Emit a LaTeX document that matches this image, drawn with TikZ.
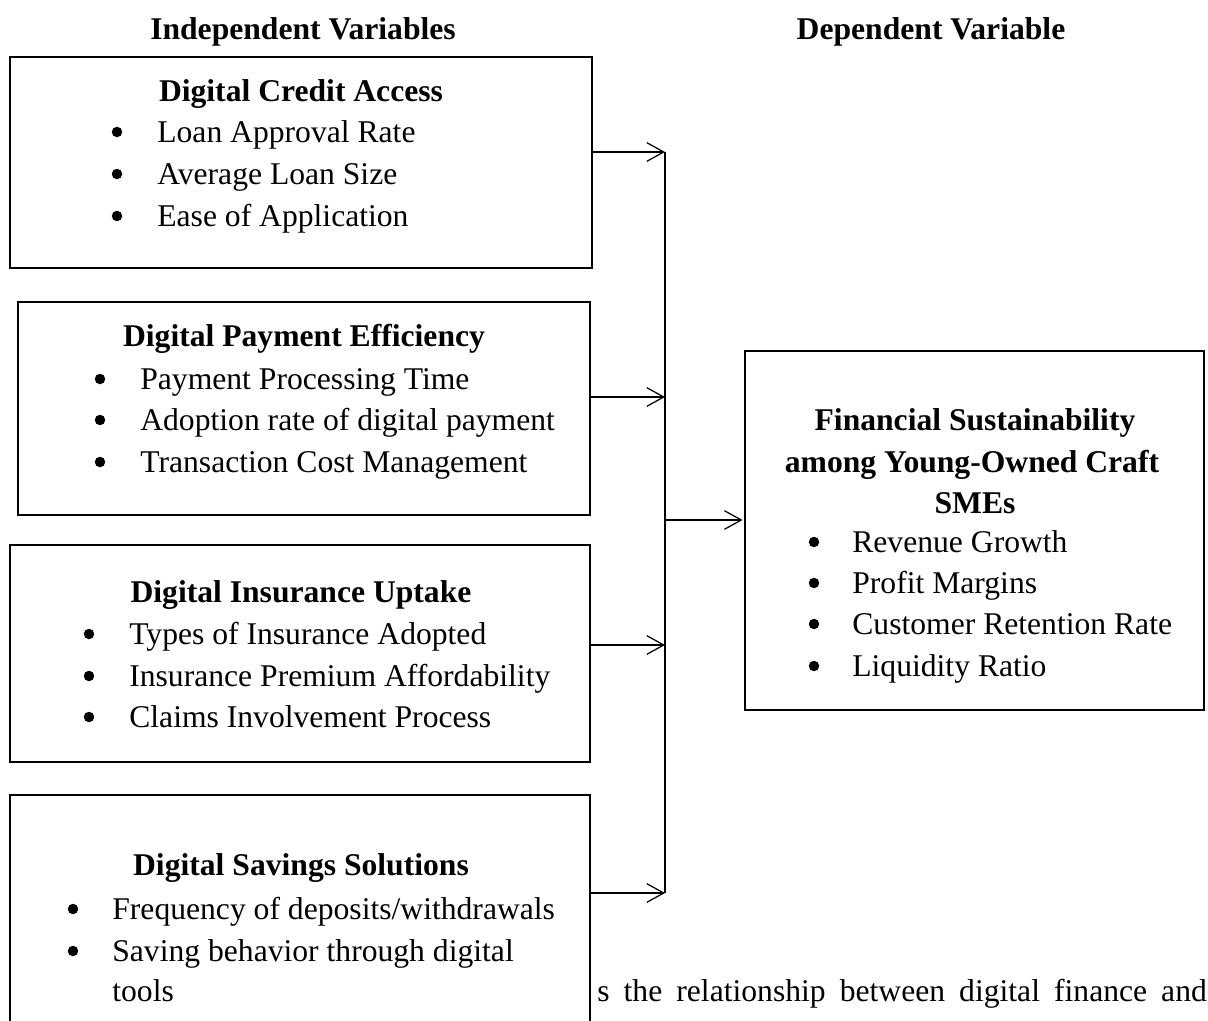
\documentclass[tikz,border=0pt]{standalone}
\usepackage{fontspec}
\setmainfont{Liberation Serif}
\usetikzlibrary{arrows.meta}
\newcommand{\wsp}{\hspace{8pt}}
\tikzset{
  every node/.style={font=\fontsize{18}{22}\selectfont, inner sep=0pt},
  box/.style={draw, line width=1.4pt},
  head/.style={font=\fontsize{18}{22}\selectfont\bfseries, anchor=base},
  dot/.style={circle, fill, minimum size=0.21cm},
  item/.style={anchor=base west},
  arr/.style={-{Straight Barb[length=9.6pt,width=10.6pt]}, line width=0.7pt},
}
\begin{document}
\begin{tikzpicture}[x=0.02cm, y=-0.02cm]
      \useasboundingbox (0, 0) rectangle (1208, 1021);
      % column headings
      \node[head] (H1) at (303, 39) {Independent Variables};
      \node[head] (H2) at (931, 39) {Dependent Variable};
      % boxes
      \node[box, minimum width=11.64cm, minimum height=4.22cm] (B1) at (301, 162.5) {};
      \node[box, minimum width=11.44cm, minimum height=4.26cm] (B2) at (304, 408.5) {};
      \node[box, minimum width=11.60cm, minimum height=4.34cm] (B3) at (300, 653.5) {};
      \node[box, minimum width=11.60cm, minimum height=4.90cm] (B4) at (300, 917.5) {};
      \node[box, minimum width=9.18cm, minimum height=7.18cm] (F) at (974.5, 530.5) {};
      % digital credit access
      \node[head] (T1) at (301, 101) {Digital Credit Access};
      \node[dot] (D11) at (117, 132) {};
      \node[dot] (D12) at (117, 174) {};
      \node[dot] (D13) at (117, 216) {};
      \node[item] (I11) at (157, 142) {Loan Approval Rate};
      \node[item] (I12) at (157, 184) {Average Loan Size};
      \node[item] (I13) at (157, 226) {Ease of Application};
      % digital payment efficiency
      \node[head] (T2) at (304, 346) {Digital Payment Efficiency};
      \node[dot] (D21) at (100, 379) {};
      \node[dot] (D22) at (100, 420) {};
      \node[dot] (D23) at (100, 462) {};
      \node[item] (I21) at (140, 389) {Payment Processing Time};
      \node[item] (I22) at (140, 430) {Adoption rate of digital payment};
      \node[item] (I23) at (140, 472) {Transaction Cost Management};
      % digital insurance uptake
      \node[head] (T3) at (301, 602) {Digital Insurance Uptake};
      \node[dot] (D31) at (89, 634) {};
      \node[dot] (D32) at (89, 676) {};
      \node[dot] (D33) at (89, 717) {};
      \node[item] (I31) at (129, 644) {Types of Insurance Adopted};
      \node[item] (I32) at (129, 686) {Insurance Premium Affordability};
      \node[item] (I33) at (129, 727) {Claims Involvement Process};
      % digital savings solutions
      \node[head] (T4) at (301, 875) {Digital Savings Solutions};
      \node[dot] (D41) at (73, 909) {};
      \node[dot] (D42) at (73, 951) {};
      \node[item] (I41) at (112, 919) {Frequency of deposits/withdrawals};
      \node[item] (I42) at (112, 961) {Saving behavior through digital};
      \node[item] (I43) at (112, 1001) {tools};
      % financial sustainability
      \node[head] (T5) at (975, 430) {Financial Sustainability};
      \node[head] (T6) at (972, 472) {among Young-Owned Craft};
      \node[head] (T7) at (975, 513) {SMEs};
      \node[dot] (D51) at (814, 542) {};
      \node[dot] (D52) at (814, 583) {};
      \node[dot] (D53) at (814, 624) {};
      \node[dot] (D54) at (814, 666) {};
      \node[item] (I51) at (852, 552) {Revenue Growth};
      \node[item] (I52) at (852, 593) {Profit Margins};
      \node[item] (I53) at (852, 634) {Customer Retention Rate};
      \node[item] (I54) at (852, 676) {Liquidity Ratio};
      % running text below
      \node[item] (R) at (597, 1001) {s\wsp the\wsp relationship\wsp between\wsp digital\wsp finance\wsp and};
      % bus and arrows
      \coordinate (P1) at (665, 152);
      \coordinate (P2) at (665, 397);
      \coordinate (P3) at (665, 645);
      \coordinate (P4) at (665, 893);
      \coordinate (P0) at (665, 520);
      \draw[line width=0.7pt] (P1) -- (P4);
      \draw[arr] (B1.east |- P1) -- (P1);
      \draw[arr] (B2.east |- P2) -- (P2);
      \draw[arr] (B3.east |- P3) -- (P3);
      \draw[arr] (B4.east |- P4) -- (P4);
      \draw[arr] (P0) -- ([xshift=-0.7pt]F.west |- P0);
    \end{tikzpicture}
\end{document}
